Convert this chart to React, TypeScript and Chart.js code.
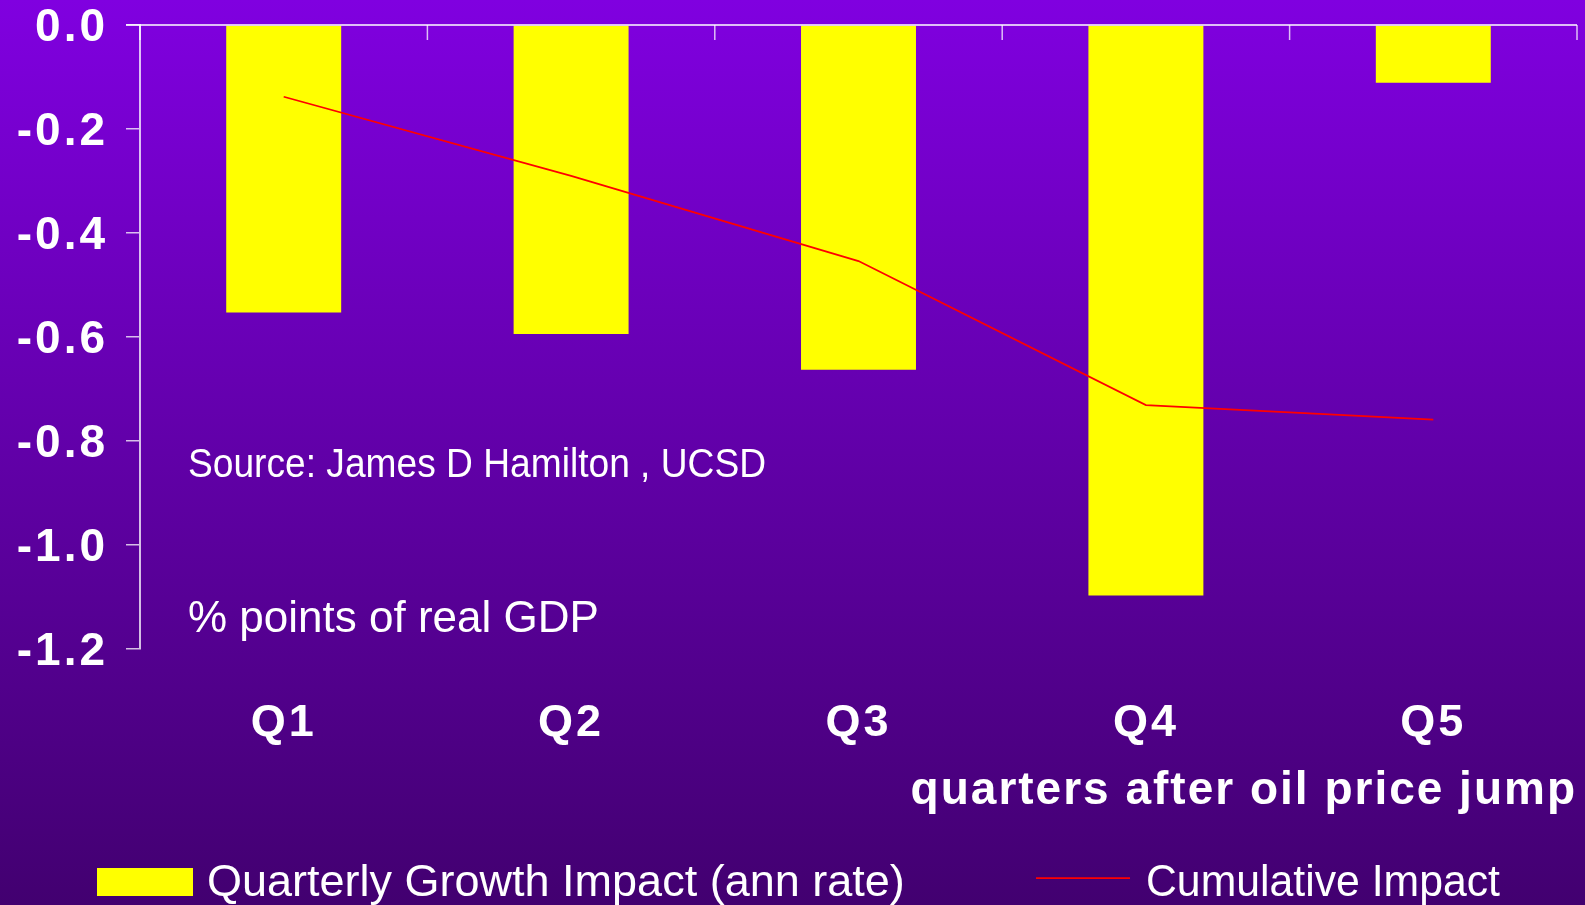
import React, { useEffect, useRef } from 'react';
import { Chart, registerables } from 'chart.js';

Chart.register(...registerables);

const FONT = "'Liberation Sans', Arial, Helvetica, sans-serif";

const categories = ['Q1', 'Q2', 'Q3', 'Q4', 'Q5'];
const quarterlyGrowthImpact = [-0.553, -0.594, -0.663, -1.097, -0.111];
const cumulativeImpact = [-0.138, -0.29, -0.454, -0.731, -0.759];
const seriesLabels = ['Quarterly Growth Impact (ann rate)', 'Cumulative Impact'];
const yMin = -1.2;
const yMax = 0;
const yStep = 0.2;
const xAxisTitle = 'quarters after oil price jump';
const noteLines = ['Source: James D Hamilton , UCSD', '% points of real GDP'];

const AXIS_COLOR = 'rgba(255,255,255,0.75)';

const spacingPlugin = {
  id: 'letterSpacingControl',
  beforeUpdate(chart: any) {
    chart.ctx.letterSpacing = '0px';
  },
  beforeDraw(chart: any) {
    // used by the axis title (drawn before the datasets)
    chart.ctx.letterSpacing = '2px';
  },
  afterDatasetsDraw(chart: any) {
    // used by the tick labels (drawn after the datasets)
    chart.ctx.letterSpacing = '3px';
  },
};

const topAxisPlugin = {
  id: 'topAxis',
  afterDraw(chart: any) {
    const { ctx, chartArea, scales } = chart;
    const x = scales.x;
    const y = scales.y;
    const y0 = y.getPixelForValue(0);
    const n = categories.length;
    const step = x.getPixelForValue(1) - x.getPixelForValue(0);
    const first = x.getPixelForValue(0) - step / 2;
    ctx.save();
    ctx.strokeStyle = AXIS_COLOR;
    ctx.lineWidth = 2;
    ctx.beginPath();
    ctx.moveTo(chartArea.left - 14, y0);
    ctx.lineTo(chartArea.right, y0);
    ctx.stroke();
    ctx.lineWidth = 1.5;
    for (let i = 0; i <= n; i++) {
      const px = first + i * step;
      ctx.beginPath();
      ctx.moveTo(px, y0);
      ctx.lineTo(px, y0 + 15);
      ctx.stroke();
    }
    ctx.restore();
  },
};

const notesAndLegendPlugin = {
  id: 'notesAndLegend',
  afterDraw(chart: any) {
    const { ctx, chartArea } = chart;
    ctx.save();
    ctx.letterSpacing = '0px';
    ctx.fillStyle = '#ffffff';
    ctx.textAlign = 'left';
    ctx.textBaseline = 'alphabetic';
    // annotations inside plot
    ctx.font = `40px ${FONT}`;
    ctx.fillText(noteLines[0], chartArea.left + 48, chartArea.top + 452, 578);
    ctx.font = `44px ${FONT}`;
    ctx.fillText(noteLines[1], chartArea.left + 48, chartArea.top + 607, 412);

    // legend
    const ds = chart.data.datasets;
    ctx.font = `45px ${FONT}`;
    ctx.fillStyle = ds[0].backgroundColor;
    ctx.fillRect(97, 868, 96, 28);
    ctx.fillStyle = '#ffffff';
    ctx.fillText(ds[0].label, 207, 896, 698);

    ctx.strokeStyle = ds[1].borderColor;
    ctx.lineWidth = ds[1].borderWidth;
    ctx.beginPath();
    ctx.moveTo(1036, 878);
    ctx.lineTo(1130, 878);
    ctx.stroke();
    ctx.fillText(ds[1].label, 1146, 896, 354);
    ctx.restore();
  },
};

export default function App() {
  const canvasRef = useRef<HTMLCanvasElement | null>(null);

  useEffect(() => {
    const canvas = canvasRef.current;
    if (!canvas) return;
    const chart = new Chart(canvas, {
      type: 'bar',
      data: {
        labels: categories,
        datasets: [
          {
            type: 'bar',
            label: seriesLabels[0],
            data: quarterlyGrowthImpact,
            backgroundColor: '#ffff00',
            borderWidth: 0,
            barPercentage: 0.4,
            categoryPercentage: 1,
            order: 2,
          } as any,
          {
            type: 'line',
            label: seriesLabels[1],
            data: cumulativeImpact,
            borderColor: '#ff0000',
            backgroundColor: '#ff0000',
            borderWidth: 1.75,
            pointRadius: 0,
            tension: 0,
            fill: false,
            order: 1,
          } as any,
        ],
      },
      options: {
        responsive: false,
        animation: false,
        devicePixelRatio: 1,
        layout: { padding: { left: 0, right: 8, top: 25, bottom: 0 } },
        plugins: {
          legend: { display: false },
          tooltip: { enabled: false },
          title: { display: false },
        },
        scales: {
          x: {
            type: 'category',
            grid: { display: false, z: -1 } as any,
            border: { display: false } as any,
            ticks: {
              color: '#ffffff',
              font: { family: FONT, size: 45, weight: 'bold' },
              padding: 40,
              z: 1,
              maxRotation: 0,
              autoSkip: false,
            },
            title: {
              display: true,
              text: xAxisTitle,
              align: 'end',
              color: '#ffffff',
              font: { family: FONT, size: 46, weight: 'bold' },
              padding: { top: 0, bottom: 86 },
            },
            afterFit: (s: any) => {
              s.height = 256;
              s.paddingLeft = 0;
              s.paddingRight = 0;
            },
          },
          y: {
            min: yMin,
            max: yMax,
            grid: {
              drawOnChartArea: false,
              drawTicks: true,
              tickLength: 14,
              color: AXIS_COLOR,
              lineWidth: 1.5,
              z: 1,
            } as any,
            border: { display: true, color: AXIS_COLOR, width: 2, z: 1 } as any,
            ticks: {
              stepSize: yStep,
              color: '#ffffff',
              font: { family: FONT, size: 46, weight: 'bold', lineHeight: 1 },
              padding: 18,
              labelOffset: 3,
              z: 1,
              callback: (v: any) => (Math.abs(Number(v)) < 1e-9 ? '0.0' : Number(v).toFixed(1)),
            } as any,
            afterFit: (s: any) => {
              s.width = 140;
              s.paddingTop = 0;
              s.paddingBottom = 0;
            },
          },
        },
      } as any,
      plugins: [spacingPlugin, topAxisPlugin, notesAndLegendPlugin],
    });
    return () => {
      chart.destroy();
    };
  }, []);

  return (
    <div
      style={{
        position: 'fixed',
        left: 0,
        top: 0,
        width: 1585,
        height: 905,
        background: 'linear-gradient(180deg, #8000e0 0%, #420070 100%)',
        overflow: 'hidden',
      }}
    >
      <canvas ref={canvasRef} width={1585} height={905} style={{ display: 'block', width: 1585, height: 905 }} />
    </div>
  );
}
